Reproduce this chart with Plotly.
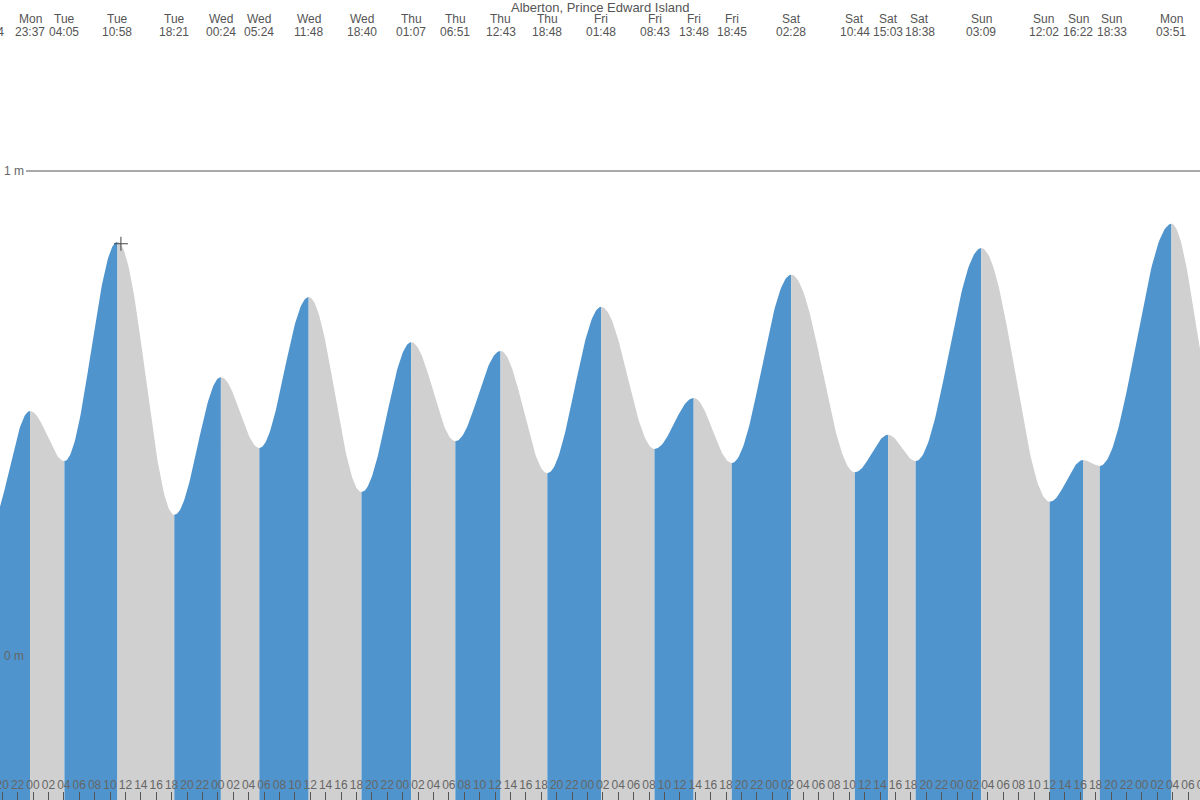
import numpy as np
import plotly.graph_objects as go

# ---- data ----
title = "Alberton, Prince Edward Island"
extreme_days = ["Mon", "Mon", "Tue", "Tue", "Tue", "Wed", "Wed", "Wed", "Wed",
                "Thu", "Thu", "Thu", "Thu", "Fri", "Fri", "Fri", "Fri",
                "Sat", "Sat", "Sat", "Sat", "Sun", "Sun", "Sun", "Sun", "Mon", "Mon"]
extreme_times = ["18:14", "23:37", "04:05", "10:58", "18:21", "00:24", "05:24", "11:48", "18:40",
                 "01:07", "06:51", "12:43", "18:48", "01:48", "08:43", "13:48", "18:45",
                 "02:28", "10:44", "15:03", "18:38", "03:09", "12:02", "16:22", "18:33", "03:51", "10:20"]
extreme_heights = [0.265, 0.505, 0.402, 0.854, 0.291, 0.575, 0.429, 0.740, 0.338,
                   0.647, 0.443, 0.629, 0.377, 0.720, 0.427, 0.532, 0.398,
                   0.786, 0.379, 0.456, 0.402, 0.841, 0.318, 0.404, 0.392, 0.891, 0.464]
now_day, now_time, now_height = "Tue", "11:25", 0.850
y_levels = [0, 1]
y_level_text = ["0 m", "1 m"]

# label nudges (pixels) used by the source to keep close labels apart
label_shift = {22: -6, 23: -5, 24: 12, 20: 4}

day_offset = {"Mon": -24, "Tue": 0, "Wed": 24, "Thu": 48, "Fri": 72, "Sat": 96, "Sun": 120}

def to_hours(day, hm, idx=None):
    h, m = hm.split(":")
    off = day_offset[day]
    if day == "Mon" and idx is not None and idx > 10:
        off = 144
    return off + int(h) + int(m) / 60.0

ext_t = [to_hours(d, t, i) for i, (d, t) in enumerate(zip(extreme_days, extreme_times))]

# figure is drawn 20px wider on each side; the page shifts it left by 20px
PAD = 20
FIG_W = 1200 + 2 * PAD
X_MIN, X_MAX = (-33 - PAD) / 7.7, (1167 + PAD) / 7.7
Y_MIN, Y_MAX = (656 - 800) / 485, 656 / 485
BOTTOM = -1.0

BLUE = "#4f94cd"
GREY = "#d0d0d0"
TXT = "#555555"
FONT = "Liberation Sans, Arial, sans-serif"

fig = go.Figure()

for k in range(len(ext_t) - 1):
    t0, t1 = ext_t[k], ext_t[k + 1]
    h0, h1 = extreme_heights[k], extreme_heights[k + 1]
    tt = np.linspace(t0, t1, 60)
    hh = h0 + (h1 - h0) * (1 - np.cos(np.pi * (tt - t0) / (t1 - t0))) / 2
    xs = list(tt) + [t1, t0]
    ys = list(hh) + [BOTTOM, BOTTOM]
    fig.add_trace(go.Scatter(
        x=xs, y=ys, fill="toself", mode="lines",
        line=dict(width=0), fillcolor=BLUE if h1 > h0 else GREY,
        hoverinfo="skip", showlegend=False))

fig.add_trace(go.Scatter(
    x=[to_hours(now_day, now_time)], y=[now_height], mode="markers",
    marker=dict(symbol="cross-thin", size=10, line=dict(width=1, color="#444444")),
    hoverinfo="skip", showlegend=False))

# 1 m reference line
fig.add_shape(type="line", xref="paper", yref="y", x0=(26 + PAD) / FIG_W, x1=1, y0=1, y1=1,
              line=dict(color="#555555", width=1), layer="above")

# height level labels
for lv, tx in zip(y_levels, y_level_text):
    fig.add_annotation(x=(2 + PAD) / FIG_W, y=lv, xref="paper", yref="y", text=tx,
                       showarrow=False, xanchor="left", yanchor="middle",
                       font=dict(size=12, color="#666666", family=FONT))

# top labels (extreme times)
for i, (d, t) in enumerate(zip(extreme_days, extreme_times)):
    x = ext_t[i]
    sh = label_shift.get(i, 0)
    if i == len(ext_t) - 1:
        continue
    if i > 0:
        fig.add_annotation(x=x, y=1 - 19 / 800, xref="x", yref="paper", text=d, xshift=sh,
                           showarrow=False, font=dict(size=12, color=TXT, family=FONT),
                           yanchor="middle", xanchor="center")
    fig.add_annotation(x=x, y=1 - 32 / 800, xref="x", yref="paper", text=t, xshift=sh,
                       showarrow=False, font=dict(size=12, color=TXT, family=FONT),
                       yanchor="middle", xanchor="center")

fig.add_annotation(x=0.5, y=1 - 7 / 800, xref="paper", yref="paper", text=title,
                   showarrow=False, font=dict(size=13, color=TXT, family=FONT),
                   yanchor="middle", xanchor="center")

tick_vals = list(range(-6, 154, 2))
tick_text = ["%02d" % (v % 24) for v in tick_vals]
midnights = list(range(0, 152, 24))

fig.update_layout(
    width=FIG_W, height=800,
    margin=dict(l=0, r=0, t=0, b=0, pad=0),
    paper_bgcolor="white", plot_bgcolor="white",
    font=dict(family=FONT, size=12, color=TXT),
    xaxis=dict(range=[X_MIN, X_MAX], showgrid=False, zeroline=False, showline=False,
               tickvals=tick_vals, ticktext=tick_text, ticks="inside", ticklen=8,
               tickwidth=1, tickcolor="#555555", ticklabelposition="inside",
               tickangle=0, automargin=False,
               tickfont=dict(size=12, color="#666666", family=FONT), fixedrange=True),
    xaxis2=dict(range=[X_MIN, X_MAX], overlaying="x", anchor="y", side="bottom",
                showgrid=False, zeroline=False, showline=False, tickvals=midnights,
                ticks="inside", ticklen=8, tickwidth=3, tickcolor="#555555",
                showticklabels=False, automargin=False, fixedrange=True),
    yaxis=dict(range=[Y_MIN, Y_MAX], showgrid=False, zeroline=False, showline=False,
               showticklabels=False, ticks="", automargin=False, fixedrange=True),
)

fig.write_html("out.html", config={"displayModeBar": False},
               post_script="document.body.style.margin='0px';"
                           "document.body.style.overflow='hidden';"
                           "var d=document.getElementsByClassName('plotly-graph-div')[0];"
                           "d.style.marginLeft='-%dpx';" % PAD)
